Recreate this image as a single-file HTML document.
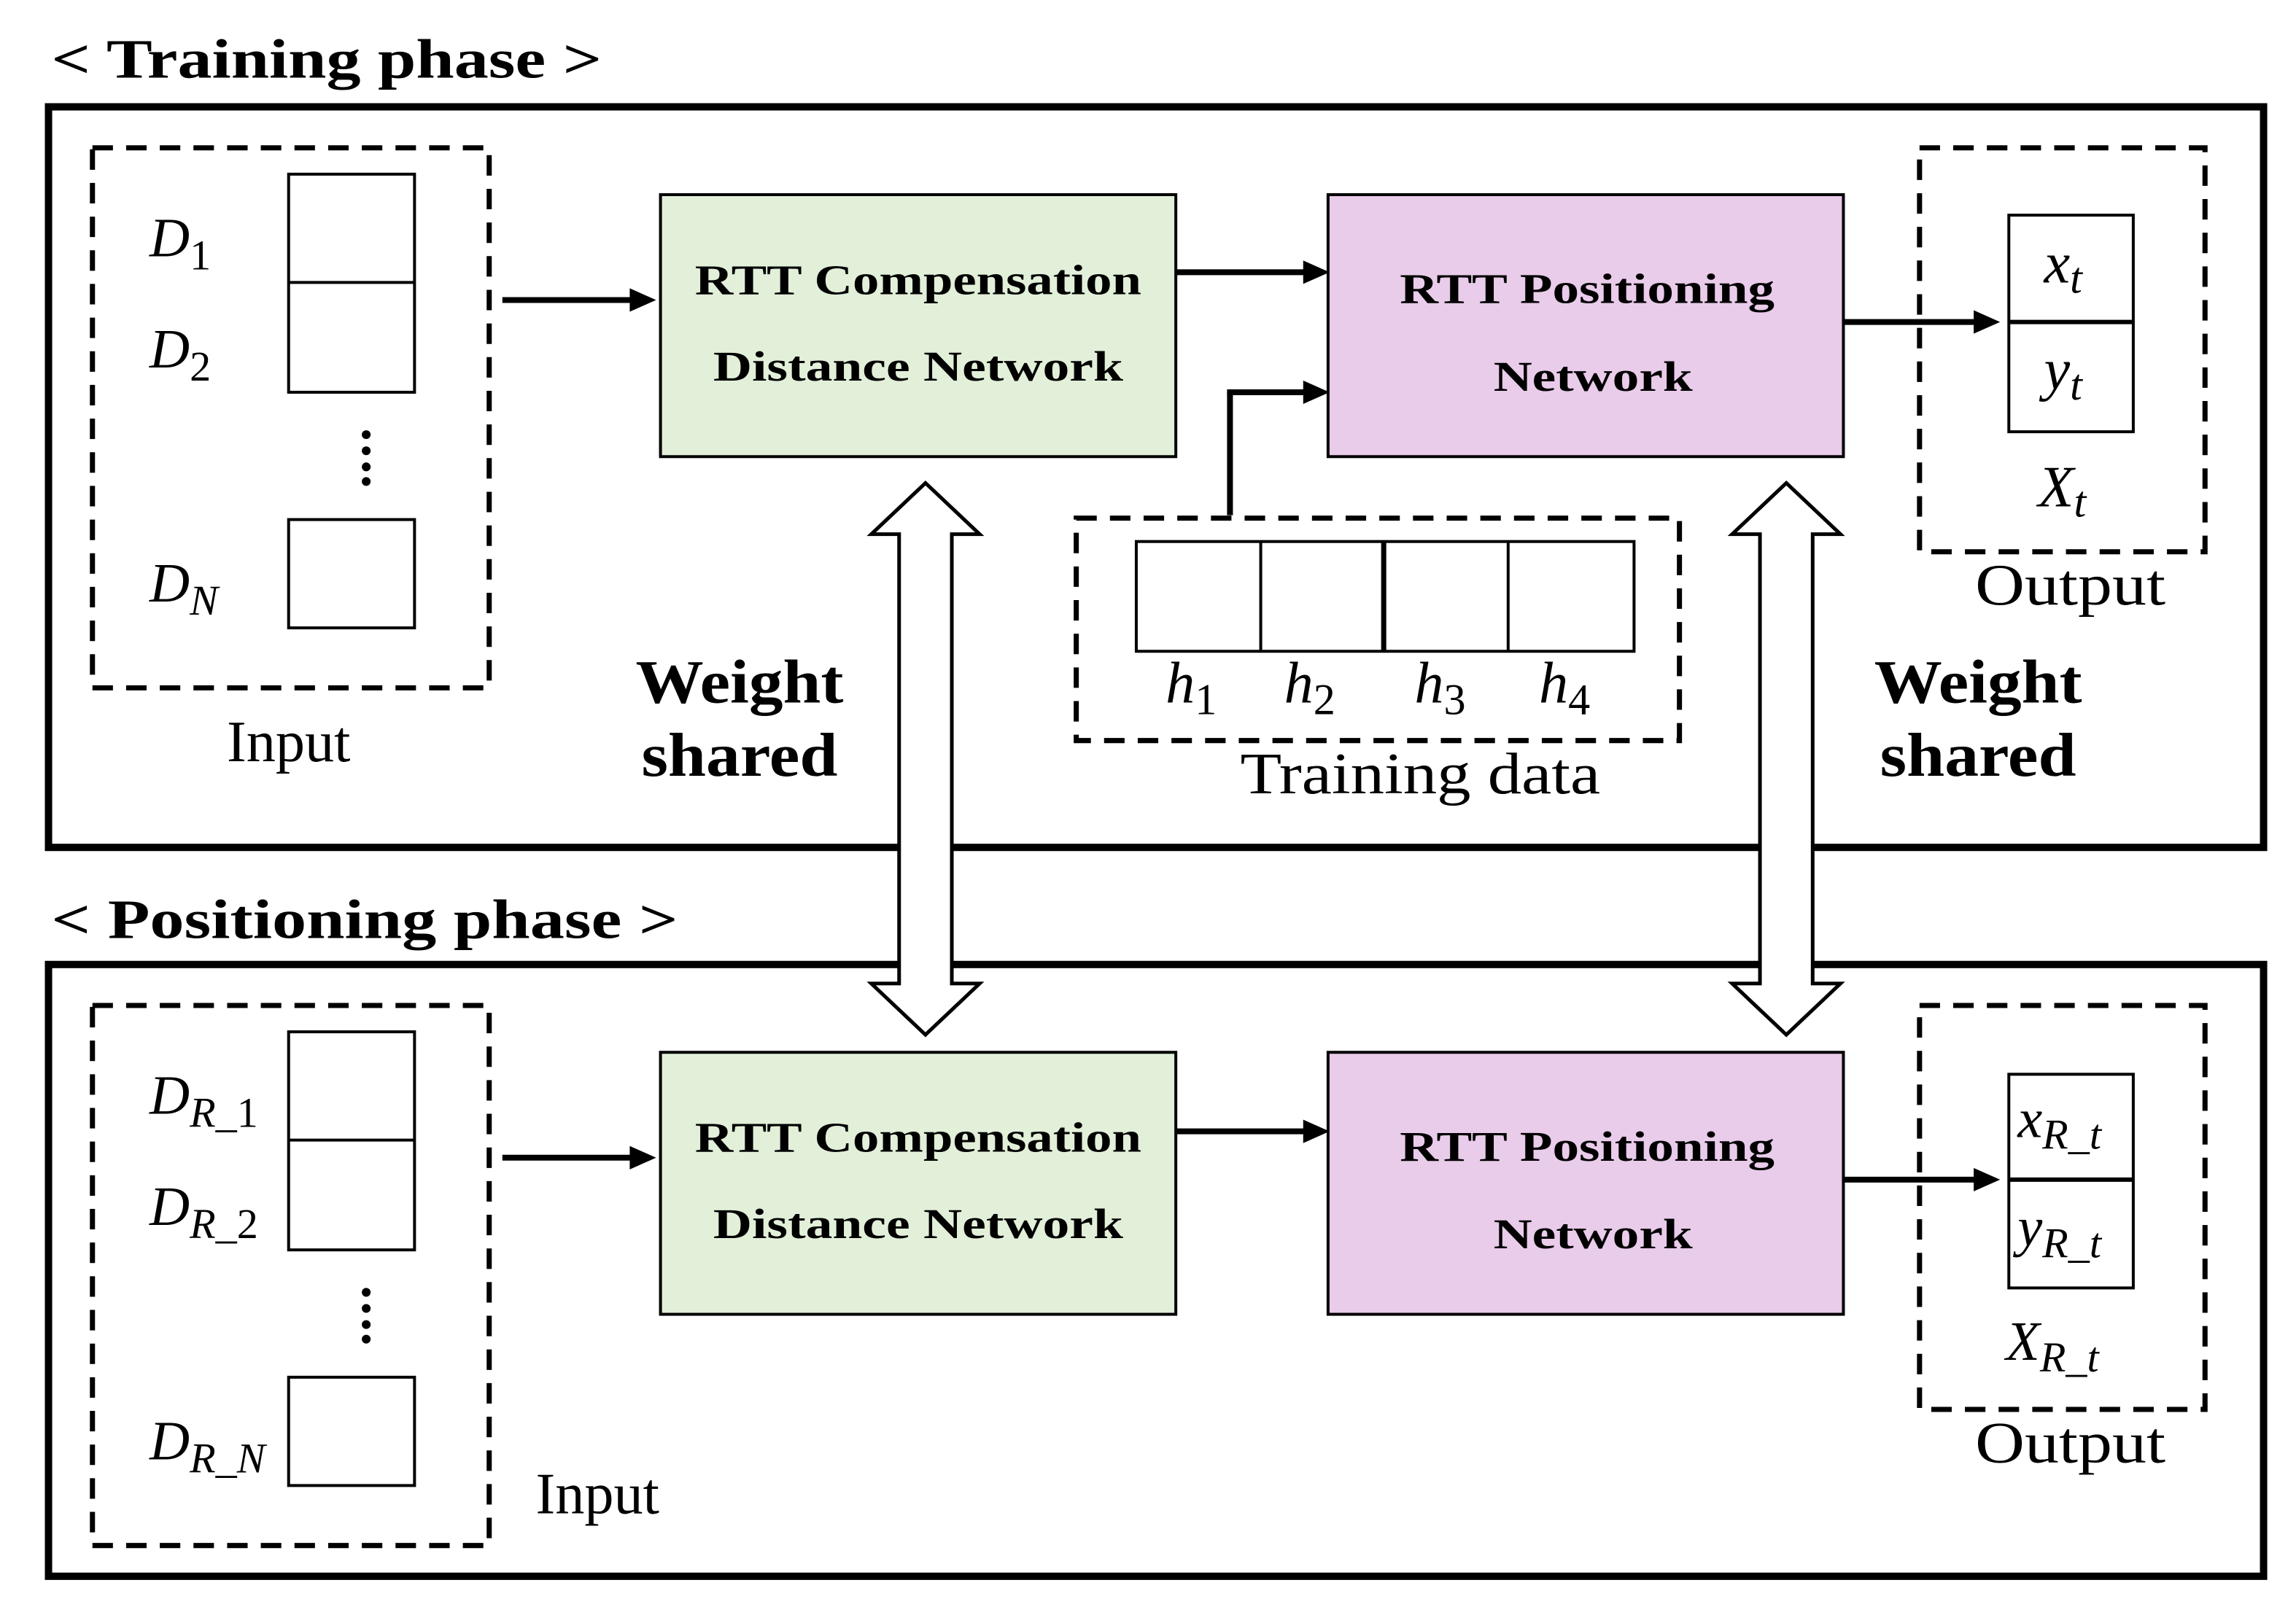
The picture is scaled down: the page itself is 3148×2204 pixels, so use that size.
<!DOCTYPE html>
<html><head><meta charset="utf-8"><style>
html,body{margin:0;padding:0;background:#fff;}
svg{display:block;}
text{font-family:"Liberation Serif",serif;fill:#000;}
.b{font-weight:bold;}
.i{font-style:italic;}
</style></head><body>
<svg width="3148" height="2204" viewBox="0 0 1568 1098" xmlns="http://www.w3.org/2000/svg">
<rect width="1568" height="1098" fill="#fff"/>

<text x="35" y="53" class="b" font-size="38" textLength="376" lengthAdjust="spacingAndGlyphs">&lt; Training phase &gt;</text>
<text x="35" y="641" class="b" font-size="38" textLength="428" lengthAdjust="spacingAndGlyphs">&lt; Positioning phase &gt;</text>

<rect x="33" y="73" width="1513" height="506" fill="none" stroke="#000" stroke-width="5"/>
<rect x="33" y="659" width="1513" height="418" fill="none" stroke="#000" stroke-width="5"/>

<rect x="63" y="101" width="271" height="369" fill="none" stroke="#000" stroke-width="3.5" stroke-dasharray="14,9"/>
<rect x="197" y="119" width="86" height="149" fill="none" stroke="#000" stroke-width="2"/>
<line x1="197" y1="193" x2="283" y2="193" stroke="#000" stroke-width="2"/>
<rect x="197" y="355" width="86" height="74" fill="none" stroke="#000" stroke-width="2"/>
<circle cx="250" cy="297" r="3" fill="#000"/><circle cx="250" cy="308" r="3" fill="#000"/><circle cx="250" cy="319" r="3" fill="#000"/><circle cx="250" cy="329" r="3" fill="#000"/>
<text x="102" y="175" class="i" font-size="38">D<tspan font-size="29" dy="9" font-style="normal">1</tspan></text>
<text x="102" y="251" class="i" font-size="38">D<tspan font-size="29" dy="9" font-style="normal">2</tspan></text>
<text x="102" y="411" class="i" font-size="38">D<tspan font-size="29" dy="9">N</tspan></text>
<text x="197" y="520" font-size="40" text-anchor="middle">Input</text>
<line x1="343" y1="205" x2="432" y2="205" stroke="#000" stroke-width="4"/>
<polygon points="430,197 448,205 430,213" fill="#000"/>
<rect x="451" y="133" width="352" height="179" fill="#e2efd9" stroke="#000" stroke-width="2"/>
<text x="627" y="201" class="b" font-size="29" text-anchor="middle" textLength="305" lengthAdjust="spacingAndGlyphs">RTT Compensation</text>
<text x="627" y="260" class="b" font-size="29" text-anchor="middle" textLength="280" lengthAdjust="spacingAndGlyphs">Distance Network</text>
<line x1="803" y1="186" x2="892" y2="186" stroke="#000" stroke-width="4"/>
<polygon points="890,178 908,186 890,194" fill="#000"/>
<rect x="907" y="133" width="352" height="179" fill="#e9cbea" stroke="#000" stroke-width="2"/>
<text x="1084" y="207" class="b" font-size="29" text-anchor="middle" textLength="256" lengthAdjust="spacingAndGlyphs">RTT Positioning</text>
<text x="1088" y="267" class="b" font-size="29" text-anchor="middle" textLength="136" lengthAdjust="spacingAndGlyphs">Network</text>
<line x1="1259" y1="220" x2="1350" y2="220" stroke="#000" stroke-width="4"/>
<polygon points="1348,212 1366,220 1348,228" fill="#000"/>
<rect x="1311" y="101" width="195" height="276" fill="none" stroke="#000" stroke-width="3.5" stroke-dasharray="14,9"/>
<rect x="1372" y="147" width="85" height="148" fill="none" stroke="#000" stroke-width="2"/>
<line x1="1372" y1="220" x2="1457" y2="220" stroke="#000" stroke-width="3"/>
<text x="1396" y="193" class="i" font-size="40">x<tspan font-size="30" dy="7">t</tspan></text>
<text x="1396" y="266" class="i" font-size="40">y<tspan font-size="30" dy="7">t</tspan></text>
<text x="1392" y="346" class="i" font-size="40">X<tspan font-size="30" dy="7">t</tspan></text>
<text x="1414" y="413" font-size="40" text-anchor="middle" textLength="130" lengthAdjust="spacingAndGlyphs">Output</text>

<line x1="840" y1="352" x2="840" y2="268" stroke="#000" stroke-width="4"/>
<line x1="838" y1="268" x2="892" y2="268" stroke="#000" stroke-width="4"/>
<polygon points="890,260 908,268 890,276" fill="#000"/>
<rect x="735" y="354" width="412" height="152" fill="none" stroke="#000" stroke-width="3.5" stroke-dasharray="14,9"/>
<rect x="776" y="370" width="340" height="75" fill="none" stroke="#000" stroke-width="2"/>
<line x1="861" y1="370" x2="861" y2="445" stroke="#000" stroke-width="2"/>
<line x1="945" y1="370" x2="945" y2="445" stroke="#000" stroke-width="3.5"/>
<line x1="1030" y1="370" x2="1030" y2="445" stroke="#000" stroke-width="2"/>
<text x="796" y="480" class="i" font-size="40">h<tspan font-size="30" dy="8" font-style="normal">1</tspan></text>
<text x="877" y="480" class="i" font-size="40">h<tspan font-size="30" dy="8" font-style="normal">2</tspan></text>
<text x="966" y="480" class="i" font-size="40">h<tspan font-size="30" dy="8" font-style="normal">3</tspan></text>
<text x="1051" y="480" class="i" font-size="40">h<tspan font-size="30" dy="8" font-style="normal">4</tspan></text>
<text x="970" y="542" font-size="40" text-anchor="middle" textLength="246" lengthAdjust="spacingAndGlyphs">Training data</text>

<text x="505" y="480" class="b" font-size="42" text-anchor="middle" textLength="142" lengthAdjust="spacingAndGlyphs">Weight</text>
<text x="505" y="530" class="b" font-size="42" text-anchor="middle" textLength="134" lengthAdjust="spacingAndGlyphs">shared</text>
<text x="1351" y="480" class="b" font-size="42" text-anchor="middle" textLength="142" lengthAdjust="spacingAndGlyphs">Weight</text>
<text x="1351" y="530" class="b" font-size="42" text-anchor="middle" textLength="134" lengthAdjust="spacingAndGlyphs">shared</text>

<rect x="63" y="687" width="271" height="369" fill="none" stroke="#000" stroke-width="3.5" stroke-dasharray="14,9"/>
<rect x="197" y="705" width="86" height="149" fill="none" stroke="#000" stroke-width="2"/>
<line x1="197" y1="779" x2="283" y2="779" stroke="#000" stroke-width="2"/>
<rect x="197" y="941" width="86" height="74" fill="none" stroke="#000" stroke-width="2"/>
<circle cx="250" cy="883" r="3" fill="#000"/><circle cx="250" cy="894" r="3" fill="#000"/><circle cx="250" cy="905" r="3" fill="#000"/><circle cx="250" cy="915" r="3" fill="#000"/>
<text x="102" y="761" class="i" font-size="38">D<tspan font-size="29" dy="9">R_</tspan><tspan font-size="29" font-style="normal">1</tspan></text>
<text x="102" y="837" class="i" font-size="38">D<tspan font-size="29" dy="9">R_</tspan><tspan font-size="29" font-style="normal">2</tspan></text>
<text x="102" y="997" class="i" font-size="38">D<tspan font-size="29" dy="9">R_N</tspan></text>
<text x="408" y="1034" font-size="40" text-anchor="middle">Input</text>
<line x1="343" y1="791" x2="432" y2="791" stroke="#000" stroke-width="4"/>
<polygon points="430,783 448,791 430,799" fill="#000"/>
<rect x="451" y="719" width="352" height="179" fill="#e2efd9" stroke="#000" stroke-width="2"/>
<text x="627" y="787" class="b" font-size="29" text-anchor="middle" textLength="305" lengthAdjust="spacingAndGlyphs">RTT Compensation</text>
<text x="627" y="846" class="b" font-size="29" text-anchor="middle" textLength="280" lengthAdjust="spacingAndGlyphs">Distance Network</text>
<line x1="803" y1="773" x2="892" y2="773" stroke="#000" stroke-width="4"/>
<polygon points="890,765 908,773 890,781" fill="#000"/>
<rect x="907" y="719" width="352" height="179" fill="#e9cbea" stroke="#000" stroke-width="2"/>
<text x="1084" y="793" class="b" font-size="29" text-anchor="middle" textLength="256" lengthAdjust="spacingAndGlyphs">RTT Positioning</text>
<text x="1088" y="853" class="b" font-size="29" text-anchor="middle" textLength="136" lengthAdjust="spacingAndGlyphs">Network</text>
<line x1="1259" y1="806" x2="1350" y2="806" stroke="#000" stroke-width="4"/>
<polygon points="1348,798 1366,806 1348,814" fill="#000"/>
<rect x="1311" y="687" width="195" height="276" fill="none" stroke="#000" stroke-width="3.5" stroke-dasharray="14,9"/>
<rect x="1372" y="734" width="85" height="146" fill="none" stroke="#000" stroke-width="2"/>
<line x1="1372" y1="806" x2="1457" y2="806" stroke="#000" stroke-width="3"/>
<text x="1378" y="777" class="i" font-size="38">x<tspan font-size="29" dy="8">R_t</tspan></text>
<text x="1378" y="851" class="i" font-size="38">y<tspan font-size="29" dy="8">R_t</tspan></text>
<text x="1370" y="929" class="i" font-size="38">X<tspan font-size="29" dy="8">R_t</tspan></text>
<text x="1414" y="999" font-size="40" text-anchor="middle" textLength="130" lengthAdjust="spacingAndGlyphs">Output</text>

<polygon points="632,330 669,365 650,365 650,672 669,672 632,707 595,672 614,672 614,365 595,365" fill="#fff" stroke="#000" stroke-width="2.5"/>
<polygon points="1220,330 1257,365 1238,365 1238,672 1257,672 1220,707 1183,672 1202,672 1202,365 1183,365" fill="#fff" stroke="#000" stroke-width="2.5"/>
</svg>
</body></html>
